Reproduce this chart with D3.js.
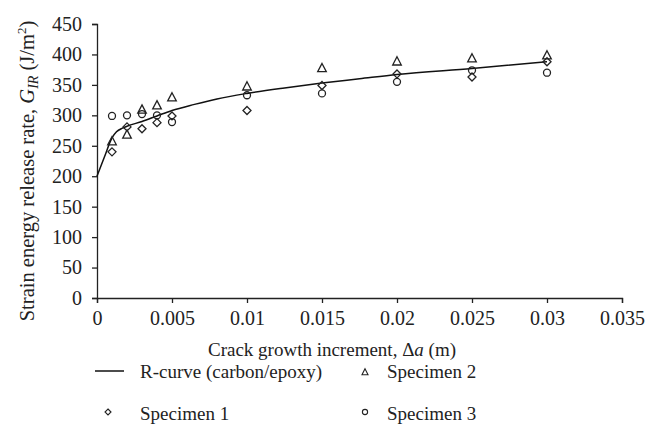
<!DOCTYPE html>
<html><head><meta charset="utf-8">
<script src="https://cdn.jsdelivr.net/npm/d3@7"></script>
<style>body{margin:0;background:#fff}svg{display:block}</style>
</head><body>
<svg id="c" width="666" height="430"></svg>
<script>
const xTicks = [0, 0.005, 0.01, 0.015, 0.02, 0.025, 0.03, 0.035];
const xTickLabels = ["0", "0.005", "0.01", "0.015", "0.02", "0.025", "0.03", "0.035"];
const yTicks = [0, 50, 100, 150, 200, 250, 300, 350, 400, 450];

const curveX = [0, 0.0005, 0.001, 0.0013, 0.0017, 0.002, 0.003, 0.004, 0.005, 0.0065, 0.008, 0.01, 0.0125, 0.015, 0.0175, 0.02, 0.025, 0.03];
const curveY = [200, 232, 263, 273, 279, 282, 290, 299, 308, 318, 327, 336, 345, 353, 360, 367, 377, 388];

const specX = [0.001, 0.002, 0.003, 0.004, 0.005, 0.01, 0.015, 0.02, 0.025, 0.03];
const spec1 = [240, 281, 278, 288, 299, 308, 349, 368, 363, 388];
const spec2 = [258, 269, 310, 317, 330, 348, 378, 389, 394, 399];
const spec3 = [299, 300, 302, 300, 289, 333, 336, 355, 374, 370];

const font = "'Liberation Serif', 'DejaVu Serif', serif";
const ink = "#222";
const svg = d3.select("#c");
const x = d3.scaleLinear().domain([0, 0.035]).range([97, 622]);
const y = d3.scaleLinear().domain([0, 450]).range([298, 24]);

const gx = svg.append("g").attr("transform", "translate(0,298)")
  .call(d3.axisBottom(x).tickValues(xTicks).tickFormat((d, i) => xTickLabels[i]).tickSizeOuter(0).tickSize(5).tickPadding(8));
const gy = svg.append("g").attr("transform", "translate(97,0)")
  .call(d3.axisLeft(y).tickValues(yTicks).tickSizeOuter(0).tickSize(5).tickPadding(10));
[gx, gy].forEach(g => {
  g.selectAll("path,line").attr("stroke", ink).attr("stroke-width", 1.3);
  g.selectAll("text").attr("font-family", font).attr("font-size", 20).attr("fill", ink);
});

const line = d3.line().x((d, i) => x(curveX[i])).y(d => y(d)).curve(d3.curveMonotoneX);
svg.append("path").attr("d", line(curveY)).attr("fill", "none").attr("stroke", "#111").attr("stroke-width", 1.5);

// custom outline symbol types (r = half-size in px)
const diamondType = { draw(ctx, r) { ctx.moveTo(0, -r); ctx.lineTo(r, 0); ctx.lineTo(0, r); ctx.lineTo(-r, 0); ctx.closePath(); } };
const triangleType = { draw(ctx, r) { const h = r * 0.9; ctx.moveTo(0, -h - 0.5); ctx.lineTo(r, h); ctx.lineTo(-r, h); ctx.closePath(); } };
const circleType = { draw(ctx, r) { ctx.moveTo(r, 0); ctx.arc(0, 0, r, 0, 2 * Math.PI); } };
const sym = {
  diamond: d3.symbol().type(diamondType).size(4),
  triangle: d3.symbol().type(triangleType).size(4.3),
  circle: d3.symbol().type(circleType).size(3.5)
};
function drawSeries(vals, s) {
  svg.append("g").selectAll("path").data(vals).join("path")
    .attr("transform", (d, i) => `translate(${x(specX[i])},${y(d)})`)
    .attr("d", sym[s]).attr("fill", "none").attr("stroke", ink).attr("stroke-width", 1.3);
}
drawSeries(spec3, "circle");
drawSeries(spec1, "diamond");
drawSeries(spec2, "triangle");

// axis titles
const xt = svg.append("text").attr("x", 332).attr("y", 356).attr("text-anchor", "middle")
  .attr("font-family", font).attr("font-size", 19).attr("fill", ink);
xt.append("tspan").text("Crack growth increment, \u0394");
xt.append("tspan").attr("font-style", "italic").text("a");
xt.append("tspan").text(" (m)");

const yt = svg.append("text").attr("transform", "translate(34,171) rotate(-90)").attr("text-anchor", "middle")
  .attr("font-family", font).attr("font-size", 20.5).attr("fill", ink);
yt.append("tspan").text("Strain energy release rate, ");
yt.append("tspan").attr("font-style", "italic").text("G");
yt.append("tspan").attr("font-style", "italic").attr("font-size", 14).attr("dy", 4).text("IR");
yt.append("tspan").attr("dy", -4).text(" (J/m");
yt.append("tspan").attr("font-size", 13).attr("dy", -8).text("2");
yt.append("tspan").attr("dy", 8).text(")");

// legend
const lg = svg.append("g").attr("font-family", font).attr("font-size", 19).attr("fill", ink);
lg.append("line").attr("x1", 95).attr("x2", 124).attr("y1", 371).attr("y2", 371).attr("stroke", "#111").attr("stroke-width", 1.5);
lg.append("text").attr("x", 140).attr("y", 378).text("R-curve (carbon/epoxy)");
lg.append("path").attr("transform", "translate(108,412)").attr("d", d3.symbol().type(diamondType).size(3)).attr("fill", "none").attr("stroke", ink).attr("stroke-width", 1.1);
lg.append("text").attr("x", 140).attr("y", 420).text("Specimen 1");
lg.append("path").attr("transform", "translate(365,372)").attr("d", d3.symbol().type(triangleType).size(3)).attr("fill", "none").attr("stroke", ink).attr("stroke-width", 1.1);
lg.append("text").attr("x", 387).attr("y", 378).text("Specimen 2");
lg.append("path").attr("transform", "translate(365,412)").attr("d", d3.symbol().type(circleType).size(2.6)).attr("fill", "none").attr("stroke", ink).attr("stroke-width", 1.1);
lg.append("text").attr("x", 387).attr("y", 420).text("Specimen 3");
</script>
</body></html>
